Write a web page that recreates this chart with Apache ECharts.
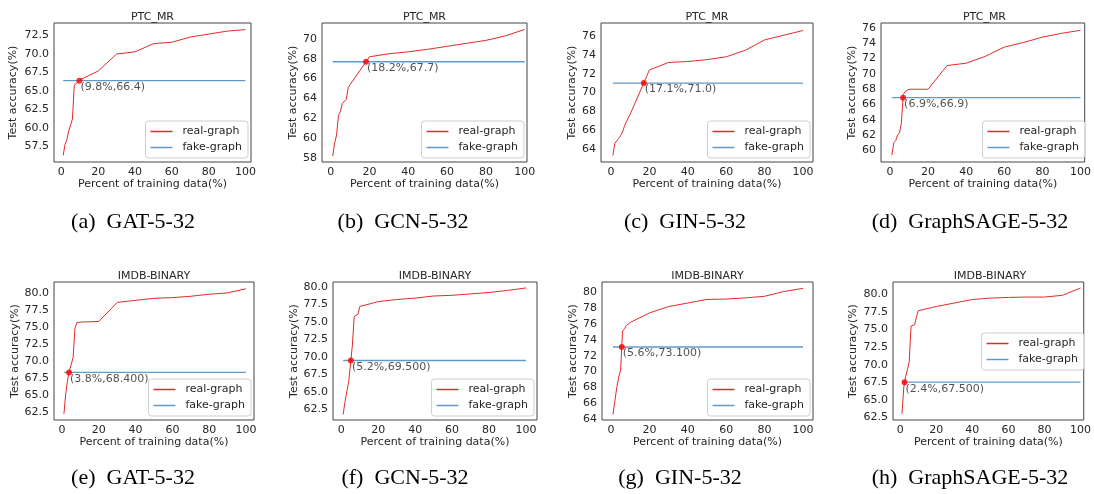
<!DOCTYPE html>
<html>
<head>
<meta charset="utf-8">
<script src="https://cdn.jsdelivr.net/npm/echarts@6/dist/echarts.min.js"></script>
<style>
html,body{margin:0;padding:0;background:#fff;}
#c{width:1094px;height:494px;}
</style>
</head>
<body>
<div id="c"></div>
<script>
// ---------- data ----------
const xPct = [1,2,3,4,5,6,7,8,9,10,20,30,40,50,60,70,80,90,100];

const gatPtc  = [56.3,57.8,58.4,59.6,60.4,61.2,65.8,66.0,66.2,66.5,67.7,70.0,70.3,71.4,71.6,72.3,72.7,73.1,73.3];
const gcnPtc  = [58.2,59.5,60.3,62.3,62.7,63.5,63.7,63.9,65.1,65.4,68.2,68.5,68.7,68.95,69.25,69.55,69.85,70.3,70.95];
const ginPtc  = [63.3,64.6,64.8,65.1,65.4,65.8,66.4,66.9,67.3,67.7,72.4,73.2,73.3,73.5,73.8,74.5,75.6,76.1,76.6];
const sagePtc = [59.4,61.0,61.3,62.0,62.3,63.6,67.3,67.7,67.9,68.0,68.0,71.1,71.4,72.3,73.5,74.1,74.8,75.3,75.7];
const gatImdb = [62.3,65.3,67.3,68.7,69.6,70.6,74.9,75.7,75.8,75.8,75.9,78.7,79.0,79.3,79.4,79.6,79.9,80.1,80.7];
const gcnImdb = [61.8,63.6,63.8,66.5,69.0,71.7,75.8,75.9,76.1,77.2,77.9,78.2,78.4,78.7,78.8,79.0,79.2,79.5,79.85];
const ginImdb = [64.6,66.3,68.0,69.3,70.2,75.1,75.4,75.8,76.0,76.2,77.4,78.2,78.65,79.1,79.15,79.3,79.5,80.1,80.5];
const sageImdb= [63.0,66.8,68.3,69.3,70.4,75.5,75.6,75.7,76.8,77.7,78.3,78.8,79.3,79.5,79.6,79.65,79.65,79.9,80.95];

const realSeries = [gatPtc, gcnPtc, ginPtc, sagePtc, gatImdb, gcnImdb, ginImdb, sageImdb];
const fakeAcc   = [66.4, 67.7, 71.0, 66.9, 68.4, 69.5, 73.1, 67.5];
const crossPct  = [9.8, 18.2, 17.1, 6.9, 3.8, 5.2, 5.6, 2.4];
const crossText = ['(9.8%,66.4)','(18.2%,67.7)','(17.1%,71.0)','(6.9%,66.9)','(3.8%,68.400)','(5.2%,69.500)','(5.6%,73.100)','(2.4%,67.500)'];

const datasetNames = ['PTC_MR','PTC_MR','PTC_MR','PTC_MR','IMDB-BINARY','IMDB-BINARY','IMDB-BINARY','IMDB-BINARY'];
const captions = ['(a)  GAT-5-32','(b)  GCN-5-32','(c)  GIN-5-32','(d)  GraphSAGE-5-32','(e)  GAT-5-32','(f)  GCN-5-32','(g)  GIN-5-32','(h)  GraphSAGE-5-32'];

const xTicks = [0,20,40,60,80,100];
const yTicks = [
  [57.5,60.0,62.5,65.0,67.5,70.0,72.5],
  [58,60,62,64,66,68,70],
  [64,66,68,70,72,74,76],
  [60,62,64,66,68,70,72,74,76],
  [62.5,65.0,67.5,70.0,72.5,75.0,77.5,80.0],
  [62.5,65.0,67.5,70.0,72.5,75.0,77.5,80.0],
  [64,66,68,70,72,74,76,78,80],
  [62.5,65.0,67.5,70.0,72.5,75.0,77.5,80.0]
];
const yDecimals = [1,0,0,0,1,1,0,1];
const seriesNames = ['real-graph','fake-graph'];

// ---------- layout ----------
const W = 1094, H = 494;
const layout = [
  {l:54,  r:251,  t:23,  b:162, xMin:-4,   xMax:103,   yMin:55.4, yMax:74.2, ng:35,   cap:133},
  {l:322, r:527,  t:23,  b:162, xMin:-4.5, xMax:101.2, yMin:57.6, yMax:71.6, ng:23,   cap:403},
  {l:601, r:813,  t:23,  b:162, xMin:-5.2, xMax:105.2, yMin:62.6, yMax:77.4, ng:22.5, cap:685},
  {l:881, r:1088, t:23,  b:162, xMin:-4.7, xMax:102.2, yMin:58.5, yMax:76.65,ng:23.5, cap:970},
  {l:54,  r:254,  t:282, b:420, xMin:-4.4, xMax:104.4, yMin:61.4, yMax:81.7, ng:33.5, cap:133},
  {l:333, r:537,  t:282, b:420, xMin:-4.5, xMax:106,   yMin:61.0, yMax:80.7, ng:33.5, cap:405},
  {l:602, r:813,  t:282, b:420, xMin:-4.7, xMax:105.2, yMin:63.9, yMax:81.3, ng:23.5, cap:680},
  {l:893, r:1087, t:282, b:420, xMin:-4,   xMax:101.8, yMin:62.1, yMax:81.8, ng:34.5, cap:970}
];

const FONT = '"DejaVu Sans", "Noto Sans", sans-serif';
const TXT = '#262626';
const RED = '#e32a2a';
const BLUE = '#5f9bc8';

const grids = [], xAxes = [], yAxes = [], series = [], legends = [], graphics = [];

layout.forEach((g, i) => {
  grids.push({left:g.l, top:g.t, width:g.r-g.l, height:g.b-g.t, show:true,
    borderColor:'#444', borderWidth:1, backgroundColor:'#fff', containLabel:false});
  xAxes.push({type:'value', gridIndex:i, min:g.xMin, max:g.xMax,
    axisLine:{show:false}, axisTick:{show:false}, splitLine:{show:false},
    axisLabel:{customValues:xTicks, color:TXT, fontSize:11, fontFamily:FONT, margin:5},
    name:'Percent of training data(%)', nameLocation:'middle', nameGap:17,
    nameTextStyle:{color:TXT, fontSize:11, fontFamily:FONT}});
  const dec = yDecimals[i];
  yAxes.push({type:'value', gridIndex:i, min:g.yMin, max:g.yMax,
    axisLine:{show:false}, axisTick:{show:false}, splitLine:{show:false},
    axisLabel:{customValues:yTicks[i], color:TXT, fontSize:11, fontFamily:FONT, margin:5,
      formatter: v => Number(v).toFixed(dec)},
    name:'Test accuracy(%)', nameLocation:'middle', nameGap:g.ng,
    nameTextStyle:{color:TXT, fontSize:11, fontFamily:FONT}});

  series.push({name:seriesNames[0], type:'line', xAxisIndex:i, yAxisIndex:i,
    data: xPct.map((x, k) => [x, realSeries[i][k]]),
    showSymbol:false, symbol:'none', lineStyle:{color:RED, width:1}, itemStyle:{color:RED}, z:3});
  series.push({name:seriesNames[1], type:'line', xAxisIndex:i, yAxisIndex:i,
    data: [[xPct[0], fakeAcc[i]], [xPct[xPct.length-1], fakeAcc[i]]],
    showSymbol:false, symbol:'none', lineStyle:{color:BLUE, width:1.4}, itemStyle:{color:BLUE}, z:2});
  series.push({name:'cross', type:'scatter', xAxisIndex:i, yAxisIndex:i,
    data: [[crossPct[i], fakeAcc[i]]], symbolSize:6, itemStyle:{color:'#ff0000'}, z:5,
    label:{show:true, formatter: crossText[i], position:[4,4], align:'left', verticalAlign:'top',
      color:TXT, fontSize:11, fontFamily:FONT}});

  const lg = {data:seriesNames, orient:'vertical', selectedMode:false,
    icon:'rect', itemWidth:22, itemHeight:1.5, itemGap:3,
    backgroundColor:'rgba(255,255,255,0.85)', borderColor:'#cfcfcf', borderWidth:1, borderRadius:3,
    padding:[4,6,4,5],
    textStyle:{color:TXT, fontSize:11, fontFamily:FONT, lineHeight:13, padding:[0,0,0,5]}};
  lg.right = W - g.r + 3;
  if (i === 7) { lg.top = g.t + 51; } else { lg.bottom = H - g.b + 4; }
  legends.push(lg);

  graphics.push({type:'text', x:(g.l+g.r)/2, y:g.t-6,
    style:{text:datasetNames[i], fill:TXT, font:'11px ' + FONT, align:'center', verticalAlign:'middle'}});
  graphics.push({type:'text', x:g.cap, y: (i < 4 ? 222 : 478),
    style:{text:captions[i], fill:'#000', font:'22px "Liberation Serif", "Times New Roman", serif', align:'center', verticalAlign:'middle'}});
});

const chart = echarts.init(document.getElementById('c'), null, {renderer:'canvas'});
chart.setOption({
  backgroundColor:'#fff',
  animation:false,
  grid:grids, xAxis:xAxes, yAxis:yAxes, series:series, legend:legends,
  graphic:graphics
});
</script>
</body>
</html>
